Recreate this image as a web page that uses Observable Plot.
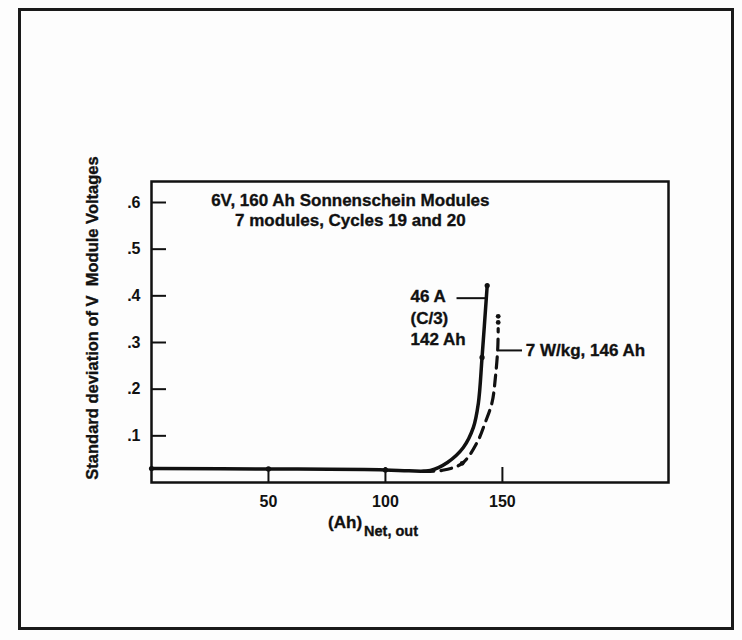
<!DOCTYPE html>
<html><head><meta charset="utf-8">
<script src="https://cdn.jsdelivr.net/npm/d3@7"></script>
<script src="https://cdn.jsdelivr.net/npm/@observablehq/plot@0.6"></script>
<style>
html,body{margin:0;padding:0;background:#fff;}
#wrap{position:relative;width:742px;height:640px;overflow:hidden;background:#fdfdfd;}
#page{position:absolute;left:18px;top:8px;width:716px;height:622px;border:3px solid #1a1a1a;box-sizing:border-box;}
#chart{position:absolute;left:0;top:0;}
</style></head>
<body><div id="wrap"><div id="page"></div><div id="chart"></div></div>
<script>
// ---- data ----
const xTicks = [50, 100, 150];
const yTicks = [0.1, 0.2, 0.3, 0.4, 0.5, 0.6];
const yTickLabels = [".1", ".2", ".3", ".4", ".5", ".6"];

// 46 A (C/3) discharge, solid line
const solidAh = [0, 50, 100, 110, 119.2, 126.5, 133.3, 137.6, 139.7, 141.3, 143.5];
const solidSd = [0.030, 0.029, 0.027, 0.025, 0.026, 0.043, 0.075, 0.118, 0.169, 0.268, 0.422];
const solidMarkAh = [0, 50, 100, 141.3, 143.5];
const solidMarkSd = [0.030, 0.029, 0.027, 0.268, 0.422];

// 7 W/kg discharge, dashed line
const dashAh = [116, 124.2, 132.8, 139.2, 142.7, 145.6, 147.0, 148.0, 148.2];
const dashSd = [0.024, 0.026, 0.041, 0.086, 0.129, 0.172, 0.225, 0.286, 0.330];
const dashMarkAh = [132.8, 148.2, 148.2];
const dashMarkSd = [0.041, 0.343, 0.356];

const titleLines = ["6V, 160 Ah Sonnenschein Modules", "7 modules, Cycles 19 and 20"];
const solidLabel = ["46 A", "(C/3)", "142 Ah"];
const dashLabel = "7 W/kg, 146 Ah";
const yTitle = "Standard deviation of V\u00a0\u00a0Module Voltages";
const xTitleMain = "(Ah)";
const xTitleSub = "Net, out";

const rows = (xs, ys) => xs.map((x, i) => ({x, y: ys[i]}));
const solid = rows(solidAh, solidSd);
const dashed = rows(dashAh, dashSd);
const solidMarks = rows(solidMarkAh, solidMarkSd);
const dashMarks = rows(dashMarkAh, dashMarkSd);

const font = "'Liberation Sans', Arial, Helvetica, sans-serif";
const W = 742, H = 640, mL = 151, mR = 74, mT = 181, mB = 158;
const frameW = W - mL - mR, frameH = H - mT - mB;
const ink = "#111";
const txt = {fontWeight: "bold", fill: ink, stroke: ink, strokeWidth: 0.35};

const chart = Plot.plot({
  width: W, height: H,
  marginLeft: mL, marginRight: mR, marginTop: mT, marginBottom: mB,
  style: {fontFamily: font, fontWeight: "bold", fontSize: "16px", color: ink, background: "transparent"},
  x: {domain: [0, 221], ticks: xTicks, tickSize: 0, tickPadding: 13, label: null},
  y: {domain: [0, 0.645], ticks: yTicks, tickFormat: (d) => yTickLabels[yTicks.indexOf(d)], tickSize: 0, tickPadding: 11, label: null},
  marks: [
    Plot.frame({stroke: ink, strokeWidth: 2.5}),
    Plot.tickY(yTicks, {y: (d) => d, insetRight: frameW - 15, stroke: ink, strokeWidth: 2}),
    Plot.tickX(xTicks, {x: (d) => d, insetTop: frameH - 15, stroke: ink, strokeWidth: 2}),
    Plot.line(solid, {x: "x", y: "y", curve: "catmull-rom", stroke: ink, strokeWidth: 3.5}),
    Plot.line(dashed, {x: "x", y: "y", curve: "catmull-rom", stroke: ink, strokeWidth: 3.2, strokeDasharray: "11,7"}),
    Plot.dot(solidMarks, {x: "x", y: "y", r: 2.6, fill: ink, stroke: "none"}),
    Plot.dot(dashMarks, {x: "x", y: "y", r: 2.4, fill: ink, stroke: "none"}),
    // title
    Plot.text([titleLines[0]], {x: 85, y: 0.604, text: (d) => d, fontSize: 17, ...txt}),
    Plot.text([titleLines[1]], {x: 85, y: 0.561, text: (d) => d, fontSize: 17, ...txt}),
    // solid label + leader
    Plot.text(solidLabel, {x: 110.7, y: (d, i) => [0.398, 0.351, 0.307][i], text: (d) => d, textAnchor: "start", fontSize: 17, ...txt}),
    Plot.ruleY([0.395], {x1: 130.6, x2: 143.4, stroke: ink, strokeWidth: 2}),
    // dashed label + leader
    Plot.ruleY([0.283], {x1: 148.6, x2: 158.6, stroke: ink, strokeWidth: 2}),
    Plot.text([dashLabel], {x: 160, y: 0.283, text: (d) => d, textAnchor: "start", fontSize: 17, ...txt}),
    // y axis title
    Plot.text([yTitle], {frameAnchor: "left", textAnchor: "middle", rotate: -90, dx: -59, dy: -14, text: (d) => d, fontSize: 16.5, ...txt}),
    // x axis title with subscript
    Plot.text([xTitleMain], {x: 90, frameAnchor: "bottom", dy: 45, text: (d) => d, textAnchor: "end", fontSize: 17, ...txt}),
    Plot.text([xTitleSub], {x: 90, frameAnchor: "bottom", dy: 53, dx: 2, text: (d) => d, textAnchor: "start", fontSize: 14.5, ...txt})
  ]
});
document.getElementById("chart").appendChild(chart);
</script>
</body></html>
